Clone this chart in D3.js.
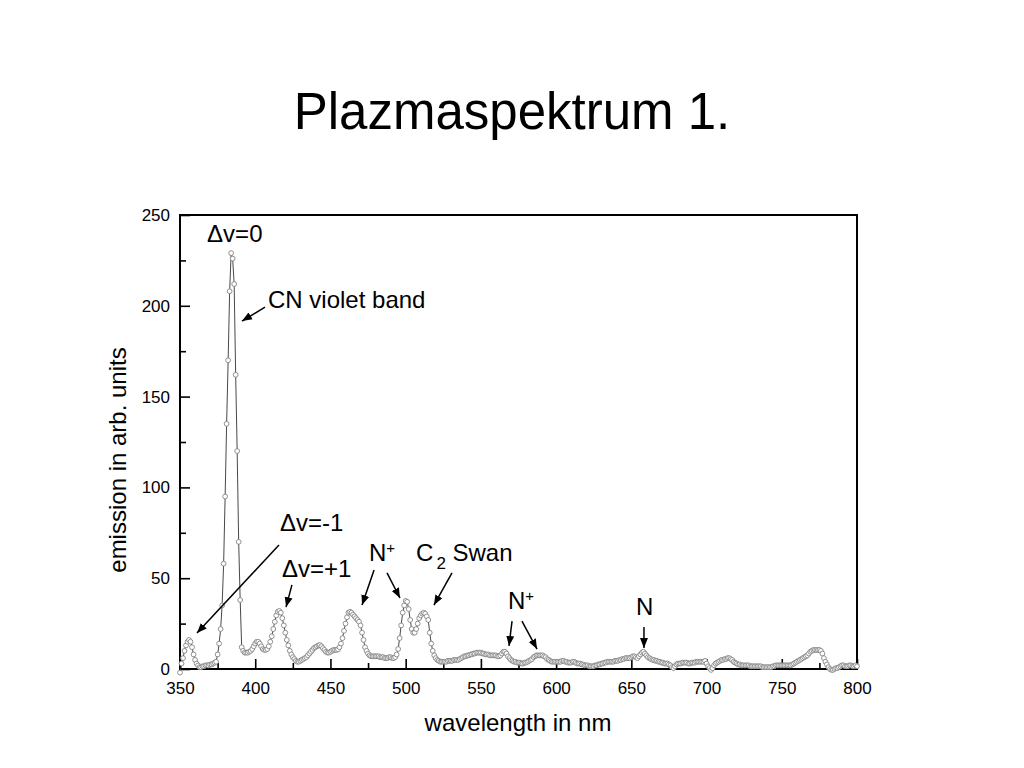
<!DOCTYPE html>
<html><head><meta charset="utf-8">
<script src="https://cdn.jsdelivr.net/npm/d3@7"></script>
<style>body{margin:0;background:#fff;} svg{display:block;} text{font-family:"Liberation Sans",Arial,sans-serif;fill:#000;}</style>
</head><body><svg id="c" width="1024" height="768"></svg>
<script>
// wavelength grid, 1 nm sampling (350..800 nm)
const wavelengths = d3.range(350, 801, 1);
// emission in arb. units, one row per 10 nm
const emission = [
  -2, 3, 6, 10, 13, 15, 16, 15, 12, 8,           // 350
  5, 3, 2, 1, 1, 1.5, 1.5, 2, 2, 2,              // 360
  2.5, 2.5, 3, 3.5, 4, 8, 14, 22, 35, 58,        // 370
  95, 135, 170, 208, 229, 226, 212, 162, 120, 70,// 380
  38, 12, 10, 9, 9, 9, 9.5, 10, 11, 12.5,        // 390
  14, 15, 15, 14, 12.5, 11, 10.5, 10.5, 11, 12.5,// 400
  15, 18, 22, 26, 29.5, 31.5, 32, 31, 28, 24,    // 410
  20, 16, 13, 10, 8, 6.5, 5.5, 4.5, 4, 4,        // 420
  4.5, 5, 5.5, 6, 6.5, 7.5, 8.5, 9.5, 10.5, 11.5,// 430
  12, 12.5, 13, 13.2, 12.5, 11.5, 10.5, 9.5, 9, 9,// 440
  9.5, 10, 10.5, 10.5, 10.5, 10.8, 12, 14, 17, 21,// 450
  25, 28.5, 31, 31.5, 31, 30, 29, 28, 27, 26,    // 460
  24, 20, 16, 12, 10, 8.5, 7.5, 7, 7, 7,         // 470
  7, 7, 7, 6.5, 6.5, 6.5, 6, 6, 6, 6.5,          // 480
  6.5, 6, 6, 6.5, 8, 11, 17, 24, 31, 35,         // 490
  37.5, 37, 33, 27, 22, 20, 20, 22, 25, 28,      // 500
  29.5, 30.5, 31, 30.5, 29, 27, 20, 14, 10, 7.5, // 510
  6, 5, 4.5, 4, 4, 4, 4, 4, 4.5, 4.5,            // 520
  4.5, 4.5, 5, 5, 5, 5, 5.5, 6, 6.5, 7,          // 530
  7, 7.5, 7.5, 8, 8, 8.5, 8.5, 9, 9, 9,          // 540
  9, 8.5, 8.5, 8, 8, 8, 7.5, 7.5, 7.5, 7.5,      // 550
  7.5, 7, 7, 7.5, 8.5, 9.5, 9.5, 8.5, 7, 6,      // 560
  5, 4.5, 4, 4, 3.5, 3.5, 3.5, 3, 3, 3.5,        // 570
  3.5, 4, 4.5, 5, 5.5, 6.5, 7, 7.5, 7.5, 7.5,    // 580
  7.5, 7.5, 7, 6.5, 5.5, 5, 4.5, 4, 4, 4,        // 590
  4, 4, 4, 4, 4.5, 4.5, 4, 4, 3.5, 3.5,          // 600
  3.5, 4, 4, 3.5, 3, 3, 3, 2.5, 2.5, 2,          // 610
  2, 2, 1.5, 1.5, 1.5, 1.5, 2, 2, 2.5, 2.5,      // 620
  3, 3, 3.5, 3.5, 4, 4, 4, 4, 4, 4.5,            // 630
  4.5, 4.5, 5, 5, 5.5, 5.5, 6, 6, 6, 6,          // 640
  6.5, 7, 7, 6.5, 6, 7, 8, 9, 9.5, 8.5,          // 650
  7.5, 6.5, 6, 5.5, 5, 5, 4.5, 4.5, 4, 4,        // 660
  3.5, 3.5, 3, 3, 3, 2.5, 2, 1, 0.5, 1.5,        // 670
  2.5, 3, 3, 3, 3.5, 3.5, 3.5, 3.5, 3, 3,        // 680
  3.5, 3.5, 3.5, 4, 4, 4, 4, 4, 4, 4.5,          // 690
  3, 1.5, 0.5, -0.5, 0.5, 2, 3, 3.5, 4, 4.5,     // 700
  5, 5, 5.5, 5.5, 6, 6, 5.5, 5, 4, 3.5,          // 710
  3, 2.5, 2.5, 2, 2, 2, 2, 2, 2, 1.5,            // 720
  1.5, 1.5, 1.5, 1.5, 1.5, 1.5, 1.5, 1, 1, 1,    // 730
  1, 1, 1, 1, 1.5, 1.5, 2, 2, 2, 2,              // 740
  2, 2, 2, 2, 2, 2, 2, 2.5, 3, 3.5,              // 750
  4, 4.5, 5, 5.5, 6, 6.5, 7, 7.5, 8.5, 9.5,      // 760
  10, 10.5, 10.5, 10.5, 10.5, 10.5, 10, 8.5, 6, 4,// 770
  2.5, 1, 0, -0.5, -0.5, 0, 0.5, 0.5, 1, 1.5,    // 780
  2, 2, 1.5, 1.5, 1.5, 2, 2, 1.5, 1.5, 2,        // 790
  1.5                                            // 800
];
const xTicks = [350, 400, 450, 500, 550, 600, 650, 700, 750, 800];
const xMinor = [375, 425, 475, 525, 575, 625, 675, 725, 775];
const yTicks = [0, 50, 100, 150, 200, 250];
const yMinor = [25, 75, 125, 175, 225];
const title = "Plazmaspektrum 1.";
const xTitle = "wavelength in nm";
const yTitle = "emission in arb. units";
// annotations in data units (nm, emission)
const notes = [
  {text: "Δv=0", x: 368, y: 235},
  {text: "CN violet band", x: 408.5, y: 199},
  {text: "Δv=-1", x: 416.5, y: 76},
  {text: "Δv=+1", x: 417.8, y: 50.7},
  {text: "N", sup: "+", x: 475.6, y: 59.5},
  {text: "C", sub: "2", after: " Swan", x: 506.9, y: 59.5},
  {text: "N", sup: "+", x: 568, y: 33},
  {text: "N", x: 653.1, y: 29.7}
];
const arrows = [
  [406.5, 199.3, 391.2, 191.6],
  [415.8, 68.3, 361.3, 19.8],
  [424.4, 46.3, 420.5, 34.1],
  [479, 54.5, 471, 35.2],
  [487.6, 52.9, 496.2, 39.1],
  [530.8, 52.9, 518.8, 35.2],
  [570.7, 26.4, 568.7, 12.7],
  [577.3, 26.4, 587.3, 11],
  [658.4, 23.1, 658.4, 11.6]
];

const svg = d3.select("#c");
const x = d3.scaleLinear().domain([350, 800]).range([180, 857]);
const y = d3.scaleLinear().domain([0, 250]).range([669, 215]);

svg.append("text").attr("x", 512).attr("y", 129).attr("text-anchor", "middle")
  .style("font-size", "51px").text(title);

// axes
const gx = svg.append("g").attr("transform", "translate(0,669)");
gx.call(d3.axisBottom(x).tickValues(xTicks).tickFormat(d3.format("d")).tickSizeInner(-10).tickSizeOuter(0).tickPadding(13));
gx.append("g").call(d3.axisBottom(x).tickValues(xMinor).tickFormat("").tickSizeInner(-6).tickSizeOuter(0));
const gy = svg.append("g").attr("transform", "translate(180,0)");
gy.call(d3.axisLeft(y).tickValues(yTicks).tickFormat(d3.format("d")).tickSizeInner(-10).tickSizeOuter(0).tickPadding(10));
gy.append("g").call(d3.axisLeft(y).tickValues(yMinor).tickFormat("").tickSizeInner(-6).tickSizeOuter(0));
svg.selectAll(".domain").remove();
svg.selectAll(".tick line").attr("stroke", "#000").attr("stroke-width", 1.6);
svg.selectAll(".tick text").style("font-size", "17px").style("font-family", '"Liberation Sans",Arial,sans-serif');

// frame
svg.append("rect").attr("x", x(350)).attr("y", y(250))
  .attr("width", x(800) - x(350)).attr("height", y(0) - y(250))
  .attr("fill", "none").attr("stroke", "#000").attr("stroke-width", 2);

// axis titles
svg.append("text").attr("x", 518).attr("y", 731).attr("text-anchor", "middle")
  .style("font-size", "24px").text(xTitle);
svg.append("text").attr("transform", "translate(126,460) rotate(-90)").attr("text-anchor", "middle")
  .style("font-size", "24px").text(yTitle);

// data
const pts = wavelengths.map((w, i) => [w, emission[i]]);
svg.append("path").datum(pts)
  .attr("d", d3.line().x(d => x(d[0])).y(d => y(d[1])))
  .attr("fill", "none").attr("stroke", "#333").attr("stroke-width", 0.9);
svg.append("g").selectAll("circle").data(pts).join("circle")
  .attr("cx", d => x(d[0])).attr("cy", d => y(d[1])).attr("r", 2.4)
  .attr("fill", "#fff").attr("stroke", "#858585").attr("stroke-width", 0.9);

// annotations
const defs = svg.append("defs");
defs.append("marker").attr("id", "ah").attr("viewBox", "0 0 10 10").attr("refX", 10).attr("refY", 5)
  .attr("markerWidth", 10).attr("markerHeight", 10).attr("markerUnits", "userSpaceOnUse").attr("orient", "auto")
  .append("path").attr("d", "M0,1 L10,5 L0,9 Z").attr("fill", "#000");
svg.append("g").selectAll("line").data(arrows).join("line")
  .attr("x1", d => x(d[0])).attr("y1", d => y(d[1]))
  .attr("x2", d => x(d[2])).attr("y2", d => y(d[3]))
  .attr("stroke", "#000").attr("stroke-width", 1.5).attr("marker-end", "url(#ah)");

notes.forEach(n => {
  const t = svg.append("text").attr("x", x(n.x)).attr("y", y(n.y)).style("font-size", "24px");
  t.append("tspan").text(n.text);
  if (n.sup) t.append("tspan").attr("dy", -8).style("font-size", "15px").text(n.sup);
  if (n.sub) {
    t.append("tspan").attr("dy", 8).attr("dx", 3).style("font-size", "17px").text(n.sub);
    t.append("tspan").attr("dy", -8).text(n.after);
  }
});
</script></body></html>
